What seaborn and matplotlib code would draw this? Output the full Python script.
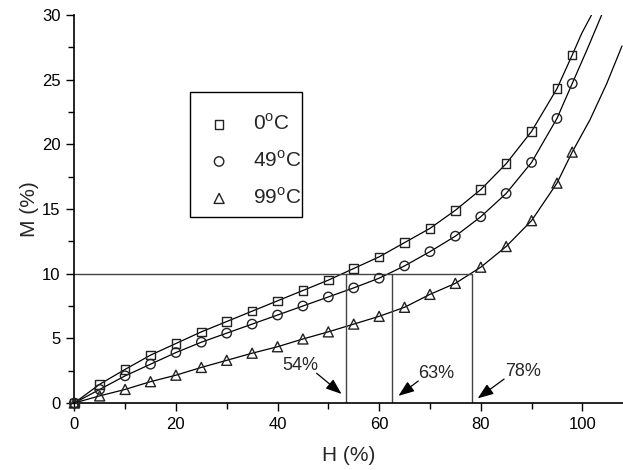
import matplotlib
matplotlib.use("Agg")
import matplotlib.pyplot as plt
from matplotlib.patches import Rectangle
from matplotlib.ticker import MultipleLocator
import seaborn as sns

# humidity (%) at which samples were measured
humidity = [0, 5, 10, 15, 20, 25, 30, 35, 40, 45, 50, 55, 60, 65, 70, 75, 80, 85, 90, 95, 98]

# moisture content (%) per temperature
m_0c = [0, 1.45, 2.6, 3.7, 4.6, 5.5, 6.3, 7.1, 7.9, 8.7, 9.5, 10.4, 11.3, 12.4, 13.5,
        14.9, 16.5, 18.5, 21.0, 24.3, 26.9]
m_49c = [0, 1.05, 2.1, 3.0, 3.9, 4.7, 5.4, 6.1, 6.8, 7.5, 8.2, 8.9, 9.65, 10.6, 11.7,
         12.9, 14.4, 16.2, 18.6, 22.0, 24.7]
m_99c = [0, 0.55, 1.05, 1.65, 2.15, 2.75, 3.3, 3.85, 4.35, 4.95, 5.5, 6.1, 6.7, 7.4, 8.4,
         9.25, 10.5, 12.1, 14.1, 17.0, 19.4]

# fitted curves continue past the last measurement
ext_h_0c = [99.9, 101.8]
ext_m_0c = [28.6, 30.0]
ext_h_49c = [100.9, 103.8]
ext_m_49c = [27.3, 30.0]
ext_h_99c = [101.5, 104.8, 107.8]
ext_m_99c = [21.9, 24.7, 27.6]

labels = ["0$^\\mathrm{o}$C", "49$^\\mathrm{o}$C", "99$^\\mathrm{o}$C"]
markers = ["s", "o", "^"]
marker_sizes = [38, 46, 52]

# M = 10 % reference and where each curve crosses it
m_ref = 10
cross_h = [53.4, 62.6, 78.2]
cross_text = ["54%", "63%", "78%"]
text_pos = [(44.5, 2.9), (71.3, 2.3), (88.4, 2.4)]
arrow_tail = [(47.7, 2.3), (67.7, 1.7), (84.6, 1.85)]
arrow_head = [(52.6, 0.7), (63.8, 0.55), (79.4, 0.36)]


def main() -> None:
    sns.set_theme(style="white")
    plt.rcParams["font.family"] = ["Liberation Sans", "DejaVu Sans"]
    plt.rcParams["mathtext.fontset"] = "custom"
    plt.rcParams["mathtext.rm"] = "Liberation Sans"

    fig = plt.figure(figsize=(6.23, 4.70), dpi=100)
    ax = fig.add_axes([74.3 / 623, 67 / 470, 548.7 / 623, 388 / 470])

    series = [
        (m_0c, ext_h_0c, ext_m_0c),
        (m_49c, ext_h_49c, ext_m_49c),
        (m_99c, ext_h_99c, ext_m_99c),
    ]
    for (values, ext_h, ext_m), label, marker, size in zip(series, labels, markers, marker_sizes):
        sns.lineplot(
            x=humidity + ext_h, y=values + ext_m, sort=False, estimator=None,
            color="black", lw=0.9, ax=ax,
        )
        sns.scatterplot(
            x=humidity, y=values, marker=marker, s=size, facecolor="none",
            edgecolor="#222222", linewidth=1.0, label=label, ax=ax, clip_on=False,
            zorder=3,
        )

    # guide lines at M = 10 %
    ax.plot([0, cross_h[-1]], [m_ref, m_ref], color="#444444", lw=1.0)
    for h in cross_h:
        ax.plot([h, h], [0, m_ref], color="#444444", lw=1.0)
    for txt, pos, tail, head in zip(cross_text, text_pos, arrow_tail, arrow_head):
        ax.text(pos[0], pos[1], txt, ha="center", va="center", fontsize=13)
        ax.annotate(
            "", xy=head, xytext=tail,
            arrowprops=dict(arrowstyle="-|>,head_length=0.8,head_width=0.3",
                            color="black", lw=0.9, shrinkA=0, shrinkB=0),
        )

    ax.set_xlim(0, 108)
    ax.set_ylim(0, 30)
    ax.xaxis.set_major_locator(MultipleLocator(20))
    ax.xaxis.set_minor_locator(MultipleLocator(10))
    ax.yaxis.set_major_locator(MultipleLocator(5))
    ax.yaxis.set_minor_locator(MultipleLocator(2.5))
    ax.tick_params(which="both", direction="out", width=1.0, colors="black",
                   labelsize=12, bottom=True, left=True)
    ax.tick_params(which="major", length=6, pad=4)
    ax.tick_params(which="minor", length=4)
    sns.despine(ax=ax)
    for side in ["left", "bottom"]:
        ax.spines[side].set_color("black")
        ax.spines[side].set_linewidth(1.2)

    ax.set_xlabel("H (%)", fontsize=15, labelpad=10)
    ax.set_ylabel("M (%)", fontsize=15, labelpad=2)

    leg = ax.legend(
        loc="upper left", bbox_to_anchor=(0.2487, 0.7467), borderaxespad=0,
        fontsize=15, frameon=False, handlelength=0.8,
        handletextpad=1.25, labelspacing=0.78, borderpad=0,
    )
    # legend box drawn separately, it is narrower than the legend padding allows
    box = Rectangle(
        ((190 - 74.3) / 548.7, (403 - 217) / 388), 112 / 548.7, 125 / 388,
        transform=ax.transAxes, fill=False, edgecolor="black", lw=1.0, zorder=4,
    )
    ax.add_patch(box)

    fig.savefig("out.png", dpi=100)
    plt.close(fig)


if __name__ == "__main__":
    main()
